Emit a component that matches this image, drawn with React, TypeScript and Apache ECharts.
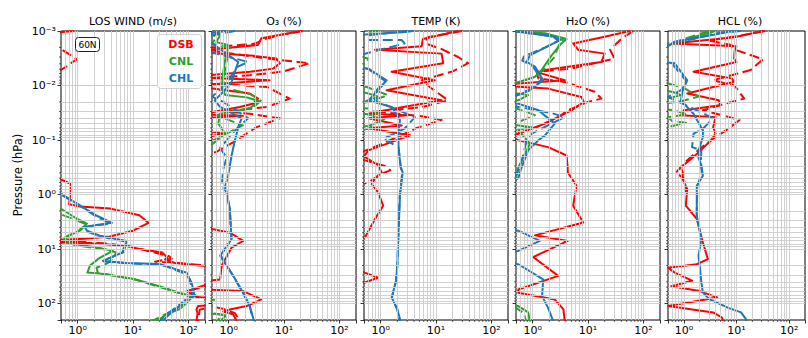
import React, { useEffect, useRef } from 'react';
import * as echarts from 'echarts';

// Each profile point is [value, pressure in hPa].
type Pt = [number, number];

const PANEL_TITLES = ['LOS WIND (m/s)', 'O₃ (%)', 'TEMP (K)', 'H₂O (%)', 'HCL (%)'];
const RUN_NAMES = ['DSB', 'CNL', 'CHL'];
const RUN_COLORS = ['#ff0000', '#2ca02c', '#1f77b4'];

// ---- LOS WIND ----
const windDsb: Pt[] = [[0.85, 0.001], [0.3, 0.0011], [0.2, 0.01], [0.2, 0.4], [0.5, 0.53], [0.73, 0.63], [0.73, 1.05], [0.7, 1.5], [1.1, 1.65], [3.8, 1.8], [13, 2.4], [19, 3.3], [10, 4.6], [3.8, 5.9], [1.35, 6.5], [0.4, 6.8], [0.3, 7.5], [2.5, 8.0], [7.7, 8.8], [13, 10], [34, 11.6], [42, 14.5], [38, 15.5], [57, 18], [160, 20], [300, 21], [300, 40], [93, 59], [141, 76], [300, 80], [300, 105], [150, 111], [140, 128], [147, 150], [140, 210]];
const windDsbDash: Pt[] = [[0.3, 0.0019], [0.5, 0.00214], [0.97, 0.0033], [0.5, 0.0052], [0.3, 0.006], [0.2, 0.01], [0.2, 6], [0.4, 6.9], [1.4, 7.1], [0.4, 7.3], [0.3, 7.5], [3, 7.8], [9, 9], [20, 11], [45, 13.5], [50, 15], [25, 17], [50, 17.5], [110, 19], [300, 20.5], [300, 45], [100, 58], [150, 77], [300, 82], [300, 110], [160, 130], [150, 210]];
const windCnl: Pt[] = [[0.3, 1.6], [0.5, 1.82], [0.97, 2.78], [1.47, 3.4], [1.1, 4.6], [0.67, 5.7], [0.59, 6.5], [0.82, 8.1], [2.5, 9.5], [4.3, 10.8], [2.5, 14.5], [1.67, 20], [1.5, 27], [2.5, 28], [9.9, 35], [30, 48], [70, 64], [120, 73], [93, 98], [70, 126], [41, 156], [27, 210]];
const windCnlDash: Pt[] = [[0.3, 1.9], [0.9, 2.9], [1.4, 3.5], [1.0, 4.8], [0.6, 6.0], [0.55, 7.0], [0.9, 8.5], [2.8, 10], [5, 11.5], [4.5, 14], [3.5, 18], [2.2, 22], [2.3, 27], [4, 30], [12, 37], [35, 52], [80, 67], [115, 78], [80, 105], [55, 130], [35, 165], [22, 210]];
const windChl: Pt[] = [[0.3, 0.85], [0.5, 0.96], [0.97, 1.47], [2.23, 2.45], [4.15, 3.3], [1.35, 3.9], [1.47, 4.6], [2.5, 5.7], [7.7, 7.1], [6.8, 11.3], [3.8, 14.5], [2.86, 16.5], [7.7, 18], [30, 18.8], [93, 27], [115, 42], [130, 73], [93, 83], [62, 121], [46, 156], [34, 210]];
const windChlDash: Pt[] = [[0.3, 0.9], [0.5, 1.0], [1.0, 1.5], [2.1, 2.5], [3.9, 3.4], [1.3, 4.0], [1.5, 4.8], [2.7, 5.9], [7.3, 7.3], [6.5, 11.5], [3.6, 14.8], [2.9, 16.8], [8.5, 18.3], [33, 19.5], [95, 29], [112, 45], [122, 75], [85, 88], [55, 125], [40, 160], [30, 210]];

// ---- O3 ----
const o3Dsb: Pt[] = [[20.6, 0.001], [3.9, 0.00136], [3.4, 0.0018], [0.3, 0.0023], [0.4, 0.0025], [2.4, 0.0028], [7.3, 0.0032], [8.4, 0.0039], [6.4, 0.0049], [2.4, 0.0056], [0.3, 0.0067], [0.4, 0.0072], [5.5, 0.008], [0.3, 0.0098], [0.4, 0.011], [2.4, 0.014], [3.4, 0.0174], [2.8, 0.0214], [1.6, 0.0247], [0.3, 0.034], [1.8, 0.036], [0.3, 0.04], [0.3, 0.065], [0.8, 0.076], [0.3, 0.095], [0.3, 4.0], [0.5, 4.3], [1.05, 5], [1.83, 7.1], [1.13, 9.4], [0.75, 20], [0.7, 36], [0.3, 40], [0.3, 55], [1.83, 59], [3.9, 84], [2.1, 111], [1.05, 128], [0.8, 140], [1.2, 157], [1.4, 210]];
const o3DsbDash: Pt[] = [[22, 0.001], [8, 0.0012], [4.5, 0.0014], [3, 0.0017], [0.3, 0.0021], [1.5, 0.0027], [4.9, 0.0032], [29, 0.0039], [10, 0.0055], [2.4, 0.0065], [0.3, 0.0075], [0.3, 0.009], [4.9, 0.0106], [12.7, 0.0174], [4.9, 0.0247], [0.9, 0.03], [2.4, 0.033], [8.4, 0.04], [3.2, 0.058], [1.2, 0.11], [0.6, 0.165], [0.3, 0.2], [0.3, 100], [0.8, 125], [1.3, 150], [1.6, 210]];
const o3Cnl: Pt[] = [[0.5, 0.001], [0.7, 0.0012], [0.6, 0.0016], [0.98, 0.0018], [0.87, 0.0032], [0.8, 0.0056], [0.75, 0.0106], [0.87, 0.015], [2.1, 0.0165], [3.5, 0.0192], [2.4, 0.0265], [0.7, 0.033], [0.65, 0.05], [0.87, 0.076], [0.5, 0.12], [0.3, 0.15], [0.3, 80], [0.55, 85], [0.3, 90], [0.3, 150], [0.6, 155], [0.9, 165], [0.7, 210]];
const o3CnlDash: Pt[] = [[0.4, 0.001], [0.6, 0.0013], [0.5, 0.0017], [1.1, 0.0021], [0.95, 0.003], [0.85, 0.0055], [0.8, 0.0095], [1.2, 0.012], [2.5, 0.0145], [3.8, 0.019], [2.8, 0.025], [1.0, 0.031], [0.6, 0.035], [1.8, 0.054], [0.6, 0.095], [0.3, 0.13], [0.3, 140], [0.8, 160], [0.6, 210]];
const o3Chl: Pt[] = [[0.9, 0.001], [0.3, 0.00115], [0.3, 0.0014], [0.5, 0.00169], [1.21, 0.0032], [1.49, 0.0037], [1.39, 0.0045], [1.13, 0.0086], [0.8, 0.013], [0.56, 0.0187], [0.7, 0.0247], [1.21, 0.033], [1.71, 0.0405], [1.49, 0.058], [1.3, 0.101], [1.13, 0.192], [0.98, 0.45], [0.87, 0.69], [1.05, 1.84], [1.13, 6.6], [0.7, 13.3], [1.21, 31], [1.83, 63], [2.4, 111], [2.8, 190], [2.9, 210]];
const o3ChlDash: Pt[] = [[1.3, 0.001], [0.5, 0.0012], [0.3, 0.0013], [0.3, 0.0022], [0.6, 0.0026], [2.26, 0.0037], [1.4, 0.0046], [1.0, 0.008], [0.7, 0.012], [0.5, 0.016], [0.8, 0.02], [2.26, 0.04], [1.39, 0.062], [0.7, 0.14], [0.92, 0.21], [0.8, 0.34], [0.75, 0.69], [0.92, 0.91], [1.05, 1.9], [1.12, 6.7], [0.72, 13], [1.2, 31], [1.8, 63], [2.4, 111], [2.8, 210]];

// ---- TEMP ----
const tempDsb: Pt[] = [[25, 0.001], [5.8, 0.0014], [5.5, 0.0019], [0.79, 0.0022], [12.6, 0.0026], [13.5, 0.0039], [1.58, 0.0056], [9.5, 0.008], [1.28, 0.0122], [12.6, 0.0187], [1.81, 0.0265], [0.6, 0.033], [3.1, 0.035], [0.6, 0.04], [2.4, 0.054], [0.6, 0.061], [3.4, 0.082], [0.6, 0.155], [0.5, 0.2], [0.9, 0.29], [1.04, 0.39], [0.79, 0.51], [0.69, 0.64], [0.9, 0.91], [1.11, 1.6], [0.79, 2.8], [0.52, 6.1], [0.3, 7], [0.3, 22], [0.9, 33.5], [0.3, 50], [0.3, 210]];
const tempDsbDash: Pt[] = [[30, 0.001], [7, 0.0013], [6.5, 0.0017], [12, 0.0021], [25, 0.003], [38, 0.0039], [20, 0.0055], [5.5, 0.008], [8, 0.011], [16.5, 0.0187], [5.5, 0.025], [0.8, 0.03], [5, 0.036], [12.6, 0.043], [4.5, 0.06], [2.5, 0.08], [1.0, 0.12], [0.5, 0.16], [0.3, 0.2], [1.2, 0.3], [1.5, 0.36], [1.0, 0.42], [0.6, 0.6], [0.3, 0.7]];
const tempCnl: Pt[] = [[0.3, 0.001], [0.3, 0.012], [0.6, 0.014], [0.9, 0.016], [0.5, 0.02], [0.3, 0.022], [0.3, 0.03], [0.7, 0.035], [1.0, 0.045], [0.6, 0.055], [0.3, 0.06], [0.3, 210]];
const tempCnlDash: Pt[] = [[0.9, 0.001], [0.3, 0.0011], [0.3, 0.0028], [0.6, 0.0032], [0.55, 0.004], [0.3, 0.0045], [0.3, 0.0095], [0.55, 0.0106], [1.35, 0.015], [0.6, 0.02], [0.3, 0.022], [0.3, 0.025], [0.6, 0.0265], [1.2, 0.04], [0.6, 0.062], [0.3, 0.07], [0.3, 210]];
const tempChl: Pt[] = [[3.9, 0.001], [2.5, 0.00105], [0.6, 0.00115], [0.3, 0.0012], [0.3, 0.0045], [0.6, 0.0049], [1.28, 0.008], [0.85, 0.013], [0.6, 0.0187], [1.58, 0.0247], [2.23, 0.043], [2.1, 0.076], [2.1, 0.135], [2.3, 0.32], [2.5, 0.39], [2.23, 1.06], [2.1, 5], [2.0, 20], [1.9, 38], [1.58, 77], [2.0, 128], [2.23, 190], [2.25, 210]];
const tempChlDash: Pt[] = [[3, 0.001], [0.6, 0.0012], [0.3, 0.0013], [0.6, 0.00147], [2.4, 0.00147], [2.7, 0.00169], [0.73, 0.0024], [0.3, 0.003], [0.3, 0.0045], [0.6, 0.005], [1.2, 0.0082], [0.8, 0.013], [0.79, 0.0187], [2.1, 0.0285], [4.15, 0.038], [2.7, 0.062], [1.11, 0.095], [2.1, 0.135], [2.3, 0.3], [2.45, 0.4], [2.2, 1.1], [2.1, 5], [2.0, 20], [1.9, 38], [1.6, 77], [2.0, 128], [2.2, 210]];

// ---- H2O ----
const h2oDsb: Pt[] = [[57, 0.001], [20, 0.00127], [5.4, 0.00169], [6.6, 0.0022], [20, 0.0026], [17.5, 0.0037], [1.67, 0.0052], [1.27, 0.0058], [3.8, 0.008], [0.55, 0.0092], [0.3, 0.0098], [0.55, 0.0105], [1.9, 0.0114], [7.6, 0.0162], [8.4, 0.02], [5.0, 0.0285], [1.67, 0.05], [0.55, 0.076], [0.4, 0.09], [0.55, 0.101], [1.9, 0.135], [4.1, 0.192], [4.3, 0.32], [4.3, 0.39], [6.2, 0.69], [5.4, 1.6], [8.2, 3.25], [1.1, 5.6], [4.3, 7.1], [1.02, 14], [2.9, 31], [0.55, 55], [0.55, 63], [2.5, 84], [3.6, 128], [3.8, 210]];
const h2oDsbDash: Pt[] = [[65, 0.001], [40, 0.0014], [25, 0.0022], [30, 0.0032], [5.0, 0.0049], [1.18, 0.0056], [1.27, 0.0074], [3.8, 0.0086], [13.2, 0.013], [17.5, 0.0174], [10, 0.02], [4.3, 0.0285], [2.9, 0.038], [1.18, 0.058], [0.55, 0.076], [0.3, 0.09]];
const h2oCnl: Pt[] = [[0.55, 0.00103], [1.67, 0.0011], [4.1, 0.0014], [3.3, 0.00169], [2.2, 0.0028], [1.45, 0.0052], [1.1, 0.0069], [0.55, 0.0087], [0.3, 0.01], [0.3, 0.013], [0.83, 0.015], [0.55, 0.0187], [0.3, 0.02], [0.3, 0.05], [0.96, 0.058], [0.55, 0.065], [0.89, 0.117], [0.67, 0.21], [0.55, 0.32], [0.5, 0.5], [0.3, 0.7], [0.3, 100], [0.55, 111], [0.83, 145], [0.89, 210]];
const h2oCnlDash: Pt[] = [[0.45, 0.001], [1.4, 0.0011], [3.8, 0.0015], [3.0, 0.0018], [2.4, 0.0031], [1.6, 0.005], [1.0, 0.0072], [0.5, 0.009], [0.3, 0.011], [0.3, 0.022], [0.6, 0.028], [1.1, 0.035], [0.6, 0.045], [0.3, 0.05], [0.3, 100], [0.5, 120], [0.7, 150], [0.75, 210]];
const h2oChl: Pt[] = [[0.3, 0.00098], [0.55, 0.00103], [2.5, 0.00127], [3.1, 0.00147], [1.9, 0.0019], [0.89, 0.0028], [0.78, 0.0037], [1.1, 0.0045], [1.55, 0.008], [0.89, 0.0122], [0.55, 0.015], [0.3, 0.017], [0.3, 0.02], [0.55, 0.0215], [1.27, 0.0285], [2.5, 0.05], [1.67, 0.082], [1.27, 0.101], [0.83, 0.155], [0.63, 0.32], [0.55, 0.5], [0.3, 0.7], [0.3, 4.2], [0.55, 4.6], [1.35, 7.1], [0.55, 10.8], [0.3, 12], [0.3, 17], [0.55, 19], [1.55, 36], [1.48, 73], [1.9, 120], [2.35, 210]];
const h2oChlDash: Pt[] = [[0.4, 0.001], [2.3, 0.00125], [2.9, 0.0015], [1.7, 0.002], [0.7, 0.0029], [0.65, 0.0035], [1.0, 0.0044], [1.45, 0.0078], [0.85, 0.012], [0.5, 0.015], [0.3, 0.018], [0.3, 0.022], [0.55, 0.0247], [2.2, 0.032], [3.8, 0.038], [1.9, 0.054], [0.96, 0.076], [0.75, 0.12], [0.6, 0.3], [0.5, 0.45], [0.3, 0.6]];

// ---- HCL ----
const hclDsb: Pt[] = [[32, 0.001], [9, 0.0013], [0.6, 0.0017], [10, 0.0019], [9.2, 0.0023], [9, 0.0032], [10, 0.0037], [1.53, 0.0056], [8.1, 0.0074], [9, 0.0085], [1.16, 0.014], [4.6, 0.0187], [4.9, 0.023], [1.0, 0.0285], [0.88, 0.035], [4.0, 0.038], [3.6, 0.058], [4.0, 0.076], [3.3, 0.101], [1.76, 0.18], [0.88, 0.32], [0.95, 0.39], [0.95, 0.52], [1.16, 0.8], [1.09, 1.6], [1.76, 2.8], [2.3, 7.6], [2.86, 15.3], [1.76, 19], [0.5, 22], [0.67, 27], [1.43, 38], [0.58, 48], [2.0, 59], [4.3, 77], [0.5, 111], [3.6, 145], [5.3, 180], [5.6, 210]];
const hclDsbDash: Pt[] = [[35, 0.001], [10, 0.00125], [3, 0.0015], [8, 0.0018], [9.2, 0.0022], [32, 0.0033], [18.5, 0.0052], [3.6, 0.008], [9.2, 0.01], [14, 0.0174], [6.1, 0.0215], [2.3, 0.0285], [5.3, 0.035], [11.4, 0.043], [7.0, 0.062], [4.0, 0.088], [2.0, 0.145], [1.0, 0.27], [0.7, 0.4], [1.0, 0.5], [1.1, 0.9]];
const hclCnl: Pt[] = [[4, 0.001], [1.5, 0.0013], [0.54, 0.0018], [0.3, 0.002], [0.3, 0.012], [0.6, 0.013], [0.9, 0.015], [0.4, 0.018], [0.3, 210]];
const hclCnlDash: Pt[] = [[3, 0.001], [1.0, 0.0014], [0.5, 0.0018], [0.3, 0.002], [0.3, 0.0085], [0.5, 0.0092], [1.0, 0.011], [1.9, 0.016], [0.8, 0.02], [0.3, 0.022], [0.3, 0.027], [0.6, 0.028], [1.2, 0.034], [0.5, 0.038], [0.6, 0.045], [1.1, 0.048], [0.5, 0.058], [0.3, 0.07], [0.3, 210]];
const hclChl: Pt[] = [[8.6, 0.001], [2.3, 0.00127], [0.67, 0.00157], [0.4, 0.0022], [0.4, 0.0037], [0.67, 0.0039], [1.16, 0.008], [0.95, 0.0122], [0.88, 0.0187], [1.53, 0.033], [2.3, 0.067], [2.3, 0.088], [2.0, 0.135], [1.9, 0.21], [2.15, 0.29], [2.3, 0.45], [1.76, 0.69], [1.76, 2.45], [2.15, 6.6], [1.9, 13.3], [2.0, 20], [2.15, 41], [2.3, 63], [3.1, 84], [7.0, 120], [12.2, 145], [15, 190], [15.5, 210]];
const hclChlDash: Pt[] = [[12, 0.001], [4, 0.0011], [1.53, 0.0014], [0.5, 0.0017], [0.3, 0.002], [0.3, 0.0035], [0.6, 0.004], [1.1, 0.0082], [0.9, 0.012], [0.5, 0.0162], [1.76, 0.0285], [3.6, 0.04], [2.3, 0.062], [1.53, 0.076], [1.43, 0.135], [2.15, 0.155], [2.1, 0.25], [2.2, 0.4], [1.8, 0.7], [1.75, 2.5]];

// Per panel: solid and dashed profiles for DSB, CNL, CHL
const PANEL_PROFILES: Pt[][][] = [
  [windDsb, windDsbDash, windCnl, windCnlDash, windChl, windChlDash],
  [o3Dsb, o3DsbDash, o3Cnl, o3CnlDash, o3Chl, o3ChlDash],
  [tempDsb, tempDsbDash, tempCnl, tempCnlDash, tempChl, tempChlDash],
  [h2oDsb, h2oDsbDash, h2oCnl, h2oCnlDash, h2oChl, h2oChlDash],
  [hclDsb, hclDsbDash, hclCnl, hclCnlDash, hclChl, hclChlDash],
];

const FONT = 'DejaVu Sans';
const PANEL_LEFT = [61, 212, 364, 516, 668];
const PANEL_W = 144;
const PANEL_TOP = 31;
const PANEL_H = 289;
const X_MIN = 0.5;
const X_MAX = 200;
const P_MIN = 0.001;
const P_MAX = 200;
const DASH = [10, 4.5];

const SUP: Record<string, string> = { '-': '⁻', '0': '⁰', '1': '¹', '2': '²', '3': '³', '4': '⁴', '5': '⁵', '6': '⁶', '7': '⁷', '8': '⁸', '9': '⁹' };
function decadeLabel(v: number): string {
  const l = Math.log10(v);
  const e = Math.round(l);
  if (Math.abs(l - e) > 1e-6) return '';
  return '10' + String(e).split('').map((c) => SUP[c]).join('');
}

// log-spaced values (m × 10^k) strictly inside an axis range
function logGrid(lo: number, hi: number, withDecades: boolean): number[] {
  const out: number[] = [];
  for (let k = -4; k <= 3; k++) {
    for (let m = withDecades ? 1 : 2; m <= 9; m++) {
      const v = +(m * Math.pow(10, k)).toPrecision(6);
      if (v > lo * 1.0001 && v < hi * 0.9999) out.push(v);
    }
  }
  return out;
}

export default function App() {
  const ref = useRef<HTMLDivElement>(null);

  useEffect(() => {
    if (!ref.current) return;
    const chart = echarts.init(ref.current, undefined, { renderer: 'svg' });
    const xGrid = logGrid(X_MIN, X_MAX, true);
    const yGrid = logGrid(P_MIN, P_MAX, true);

    const grids = PANEL_LEFT.map((l) => ({
      left: l, top: PANEL_TOP, width: PANEL_W, height: PANEL_H,
      show: true, borderColor: '#000', borderWidth: 1, backgroundColor: 'transparent',
    }));

    const xAxes = PANEL_LEFT.map((_, i) => ({
      type: 'log', logBase: 10, gridIndex: i, min: X_MIN, max: X_MAX,
      axisLine: { show: false },
      axisTick: { show: true, length: 3.5, lineStyle: { color: '#000', width: 0.8 } },
      axisLabel: {
        formatter: (v: number) => decadeLabel(v), color: '#000', fontSize: 11,
        fontFamily: FONT, margin: 5,
      },
      splitLine: { show: false },
    }));

    const yAxes = PANEL_LEFT.map((_, i) => ({
      type: 'log', logBase: 10, gridIndex: i, min: P_MIN, max: P_MAX, inverse: true,
      axisLine: { show: false },
      axisTick: { show: true, length: 3.5, lineStyle: { color: '#000', width: 0.8 } },
      axisLabel: {
        show: i === 0, formatter: (v: number) => decadeLabel(v), color: '#000',
        fontSize: 11, fontFamily: FONT, margin: 5,
      },
      splitLine: { show: false },
    }));

    const series: any[] = [];
    PANEL_PROFILES.forEach((profiles, i) => {
      series.push({
        type: 'line', xAxisIndex: i, yAxisIndex: i, data: [], silent: true, z: 1,
        markLine: {
          silent: true, symbol: ['none', 'none'], label: { show: false },
          lineStyle: { color: '#cccccc', width: 0.9, type: 'solid' },
          emphasis: { disabled: true },
          data: [...xGrid.map((v) => ({ xAxis: v })), ...yGrid.map((v) => ({ yAxis: v }))],
        },
      });
      profiles.forEach((pts, k) => {
        const run = Math.floor(k / 2);
        const dashed = k % 2 === 1;
        series.push({
          type: 'line', name: RUN_NAMES[run] + (dashed ? ' dashed' : ''),
          xAxisIndex: i, yAxisIndex: i, data: pts, clip: true,
          symbol: 'none', showSymbol: false, z: 3,
          lineStyle: { color: RUN_COLORS[run], width: 2, type: dashed ? DASH : 'solid', cap: 'butt', join: 'round' },
          emphasis: { disabled: true },
        });
      });
    });

    chart.setOption({
      animation: false,
      backgroundColor: '#fff',
      grid: grids,
      xAxis: xAxes,
      yAxis: yAxes,
      series,
    });

    // minor ticks on the outer side of each panel's left and bottom edges
    const minorX = logGrid(X_MIN, X_MAX, false);
    const minorY = logGrid(P_MIN, P_MAX, false);
    const minorTicks: any[] = [];
    PANEL_LEFT.forEach((l, i) => {
      const bottom = PANEL_TOP + PANEL_H;
      minorY.forEach((v) => {
        const y = chart.convertToPixel({ yAxisIndex: i }, v) as number;
        minorTicks.push({ type: 'line', silent: true, shape: { x1: l - 2, y1: y, x2: l, y2: y }, style: { stroke: '#000', lineWidth: 0.6 } });
      });
      minorX.forEach((v) => {
        const x = chart.convertToPixel({ xAxisIndex: i }, v) as number;
        minorTicks.push({ type: 'line', silent: true, shape: { x1: x, y1: bottom, x2: x, y2: bottom + 2 }, style: { stroke: '#000', lineWidth: 0.6 } });
      });
    });

    const titles = PANEL_TITLES.map((t, i) => ({
      type: 'text', x: PANEL_LEFT[i] + PANEL_W / 2, y: 21,
      style: { text: t, align: 'center', verticalAlign: 'middle', fontSize: 11, fontFamily: FONT, fill: '#000' },
    }));

    const legendTexts = RUN_NAMES.map((n, k) => ({
      type: 'text', x: 181, y: 44 + k * 17, z: 11,
      style: { text: n, align: 'center', verticalAlign: 'middle', fontSize: 11, fontWeight: 'bold', fontFamily: FONT, fill: RUN_COLORS[k] },
    }));

    chart.setOption({
      graphic: [
        ...titles,
        ...minorTicks,
        {
          type: 'text', x: 18, y: 175, rotation: Math.PI / 2,
          style: { text: 'Pressure (hPa)', align: 'center', verticalAlign: 'middle', fontSize: 11.5, fontFamily: FONT, fill: '#000' },
        },
        {
          type: 'rect', shape: { x: 157.5, y: 34.5, width: 44, height: 54, r: 3 },
          style: { fill: 'rgba(255,255,255,0.8)', stroke: '#d0d0d0', lineWidth: 1 }, z: 10,
        },
        ...legendTexts,
        {
          type: 'rect', shape: { x: 75.5, y: 37.5, width: 24, height: 14, r: 3 },
          style: { fill: '#fff', stroke: '#222', lineWidth: 1 }, z: 10,
        },
        {
          type: 'text', x: 87.5, y: 44.5, z: 11,
          style: { text: '60N', align: 'center', verticalAlign: 'middle', fontSize: 9, fontFamily: FONT, fill: '#000' },
        },
      ],
    });
    return () => chart.dispose();
  }, []);

  return (
    <div
      ref={ref}
      style={{ position: 'fixed', left: 0, top: 0, width: 808, height: 338, background: '#fff' }}
    />
  );
}
